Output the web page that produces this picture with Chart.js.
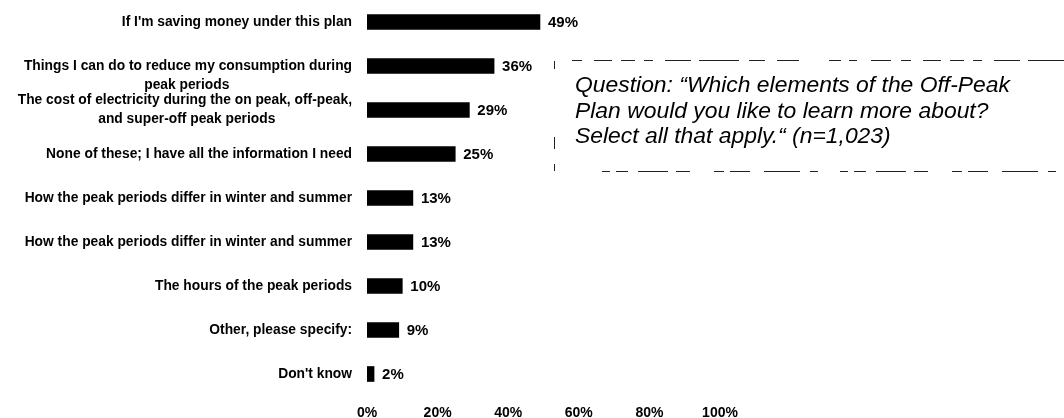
<!DOCTYPE html>
<html>
<head>
<meta charset="utf-8">
<script src="https://cdn.jsdelivr.net/npm/chart.js@4.4.1/dist/chart.umd.min.js"></script>
<style>
  html, body { margin: 0; padding: 0; background: #fff; }
  #wrap { position: relative; width: 1064px; height: 418px; }
</style>
</head>
<body>
<div id="wrap"><canvas id="c" width="1064" height="418"></canvas></div>
<script>
// Survey answers, percentages and axis ticks
const categories = [
  "If I'm saving money under this plan",
  ["Things I can do to reduce my consumption during", "peak periods"],
  ["The cost of electricity during the on peak, off-peak,", "and super-off peak periods"],
  "None of these; I have all the information I need",
  "How the peak periods differ in winter and summer",
  "How the peak periods differ in winter and summer",
  "The hours of the peak periods",
  "Other, please specify:",
  "Don't know"
];
const shares = [49, 36, 29, 25, 13, 13, 10, 9, 2];
const axisTicks = [0, 20, 40, 60, 80, 100];
const questionLines = [
  "Question: \u201CWhich elements of the Off-Peak",
  "Plan would you like to learn more about?",
  "Select all that apply.\u201C (n=1,023)"
];

const FAMILY = '"Liberation Sans", Arial, sans-serif';
const LABEL_SIZE = 13.8;
// wrapped labels that hang from the bar line instead of centring on it
const hangingLabels = new Set([1]);

// Centre the lines of a wrapped label within its right-aligned block
const measureCtx = document.createElement('canvas').getContext('2d');
function centreLines(lines) {
  measureCtx.font = `bold ${LABEL_SIZE}px ${FAMILY}`;
  const widths = lines.map(l => measureCtx.measureText(l).width);
  const widest = Math.max(...widths);
  const nb = measureCtx.measureText('\u00A0').width;
  return lines.map((l, i) => l + '\u00A0'.repeat(Math.round((widest - widths[i]) / 2 / nb)));
}

// Percent labels at the end of each bar
const valueLabels = {
  id: 'valueLabels',
  afterDatasetsDraw(chart) {
    const { ctx } = chart;
    const meta = chart.getDatasetMeta(0);
    ctx.save();
    ctx.font = `bold 15px ${FAMILY}`;
    ctx.fillStyle = '#000';
    ctx.textAlign = 'left';
    ctx.textBaseline = 'middle';
    meta.data.forEach((bar, i) => {
      ctx.fillText(shares[i] + '%', bar.x + 8, bar.y + 1);
    });
    ctx.restore();
  }
};

// Question text in a broken dashed frame on the right
const questionBox = {
  id: 'questionBox',
  afterDraw(chart) {
    const { ctx } = chart;
    ctx.save();
    ctx.strokeStyle = '#222';
    ctx.lineWidth = 1;
    ctx.setLineDash([10, 12, 18, 9, 14, 9, 9, 12, 26, 8, 40, 10, 16, 12, 22, 30, 12, 8, 8, 14, 20, 10]);
    ctx.beginPath();
    ctx.moveTo(572, 60.5); ctx.lineTo(1064, 60.5);
    ctx.stroke();
    ctx.setLineDash([8, 6, 12, 10, 30, 8, 14, 24, 10, 6, 20, 14, 36, 10, 8, 22]);
    ctx.beginPath();
    ctx.moveTo(602, 171.5); ctx.lineTo(1064, 171.5);
    ctx.stroke();
    ctx.setLineDash([8, 68, 12, 15, 7, 100]);
    ctx.beginPath();
    ctx.moveTo(554.5, 61); ctx.lineTo(554.5, 171);
    ctx.stroke();
    ctx.setLineDash([]);
    ctx.fillStyle = '#000';
    ctx.font = `italic 21.5px ${FAMILY}`;
    ctx.textAlign = 'left';
    ctx.textBaseline = 'alphabetic';
    // widen the text block so the first line runs out to x = 1010
    const sx = 435 / ctx.measureText(questionLines[0]).width;
    ctx.translate(575, 0);
    ctx.scale(sx, 1);
    questionLines.forEach((t, i) => ctx.fillText(t, 0, 92 + i * 25.5));
    ctx.restore();
  }
};

new Chart(document.getElementById('c'), {
  type: 'bar',
  data: {
    labels: categories,
    datasets: [{
      data: shares,
      backgroundColor: '#000',
      borderWidth: 0,
      barThickness: 15
    }]
  },
  options: {
    indexAxis: 'y',
    responsive: false,
    animation: false,
    devicePixelRatio: 1,
    layout: { padding: { left: 0, right: 344, top: 0, bottom: 0 }, autoPadding: false },
    plugins: { legend: { display: false }, tooltip: { enabled: false } },
    scales: {
      x: {
        min: 0,
        max: 100,
        grid: { display: false, drawTicks: false },
        border: { display: false },
        afterBuildTicks: s => { s.ticks = axisTicks.map(v => ({ value: v })); },
        afterFit: s => { s.height = 22; s.paddingLeft = 0; s.paddingRight = 0; },
        ticks: {
          color: '#000',
          padding: 9,
          maxRotation: 0,
          font: { family: FAMILY, size: 14, weight: 'bold' },
          callback: v => v + '%'
        }
      },
      y: {
        grid: { display: false, drawTicks: false },
        border: { display: false },
        afterFit: s => { s.width = 367; s.paddingTop = 0; s.paddingBottom = 0; },
        ticks: {
          color: '#000',
          padding: 15,
          autoSkip: false,
          font: { family: FAMILY, size: LABEL_SIZE, weight: 'bold', lineHeight: 19 / LABEL_SIZE },
          callback: function (value, index) {
            const lbl = this.getLabelForValue(value);
            if (!Array.isArray(lbl)) return lbl;
            const lines = centreLines(lbl);
            return hangingLabels.has(index) ? [''].concat(lines) : lines;
          }
        }
      }
    }
  },
  plugins: [valueLabels, questionBox]
});
</script>
</body>
</html>
